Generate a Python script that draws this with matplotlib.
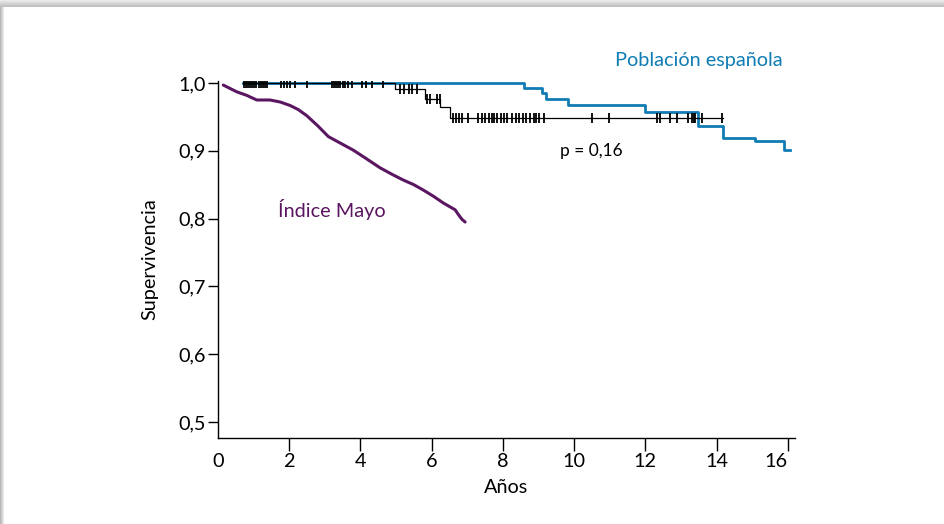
import numpy as np
import matplotlib
matplotlib.use("Agg")
import matplotlib.pyplot as plt
import matplotlib.transforms as mtransforms

plt.rcParams['font.family'] = ['Lato', 'DejaVu Sans']

# Población española (step curve)
pob_t = [0.70, 8.58, 9.09, 9.20, 9.84, 12.00, 13.49, 14.19, 15.08, 15.90, 16.05]
pob_s = [1.000, 0.992, 0.986, 0.977, 0.968, 0.957, 0.937, 0.919, 0.9145, 0.901, 0.901]

# Kaplan-Meier cohort (step curve)
km_t = [0.70, 4.97, 5.81, 6.24, 6.52, 14.19]
km_s = [1.000, 0.991, 0.977, 0.964, 0.949, 0.949]

# censored observations (years)
censor_t = [0.72, 0.78, 0.84, 0.90, 0.96, 1.02, 1.08, 1.14, 1.20, 1.26, 1.32, 1.38,
            1.76, 1.84, 1.93, 2.02, 2.16, 2.49,
            3.20, 3.26, 3.32, 3.38, 3.44, 3.50, 3.57, 3.65, 3.76,
            4.04, 4.15, 4.32, 4.64,
            5.12, 5.22, 5.36, 5.46, 5.58,
            5.87, 5.96,
            6.15, 6.23,
            6.60, 6.68, 6.76, 6.85, 7.03,
            7.30, 7.40, 7.50, 7.60, 7.69, 7.74, 7.84, 7.94, 8.04, 8.11,
            8.26, 8.36, 8.46, 8.56, 8.66, 8.76, 8.86, 8.94, 9.00, 9.16,
            10.50, 10.99, 12.34, 12.40, 12.68, 12.88, 13.21, 13.31, 13.36, 13.40,
            13.59, 14.15]

# Índice Mayo (predicted survival)
mayo_t = [0.15, 0.53, 0.80, 1.09, 1.46, 1.75, 2.02, 2.25, 2.49, 2.80, 3.10, 3.45, 3.80,
          4.15, 4.55, 4.90, 5.20, 5.50, 5.77, 6.05, 6.33, 6.66, 6.75, 6.85, 6.94]
mayo_s = [0.997, 0.987, 0.982, 0.975, 0.975, 0.972, 0.967, 0.961, 0.952, 0.937, 0.921, 0.911, 0.901,
          0.889, 0.875, 0.865, 0.857, 0.850, 0.842, 0.833, 0.823, 0.813, 0.806, 0.799, 0.795]

xticks = [0, 2, 4, 6, 8, 10, 12, 14, 16]
yticks = [0.5, 0.6, 0.7, 0.8, 0.9, 1.0]
ytick_labels = ['0,5', '0,6', '0,7', '0,8', '0,9', '1,0']

BLUE = '#0f7cb3'
PURPLE = '#5a1660'
FS = 14.3

fig = plt.figure(figsize=(9.44, 5.24), dpi=100)

# background with shadow on top and left edge
bg = fig.add_axes([0, 0, 1, 1], zorder=-10)
H, W = 524, 944
img = np.ones((H, W))
yy = np.arange(H)[:, None] * np.ones((1, W))
xx = np.ones((H, 1)) * np.arange(W)[None, :]
img = np.where(yy < 7, 0.72 + 0.2 * (1 - yy / 7.0), img)
img = np.where((xx < 4) & (yy >= 7), 0.72 + 0.25 * (xx / 4.0), img)
bg.imshow(img, cmap='gray', vmin=0, vmax=1, aspect='auto', interpolation='bilinear')
bg.set_axis_off()

ax = fig.add_axes([0.2309, 0.1641, 0.6112, 0.6813])
ax.set_facecolor('none')

ax.plot(pob_t, pob_s, drawstyle='steps-post', color=BLUE, lw=2.0, zorder=2)
ax.plot(km_t, km_s, drawstyle='steps-post', color='black', lw=0.9, zorder=3)
idx = np.searchsorted(km_t, censor_t, side='right') - 1
cs = np.array(km_s)[idx]
ax.plot(censor_t, cs, linestyle='none', marker='|', markersize=6.5, mew=1.3, color='black', zorder=4)
ax.plot(mayo_t, mayo_s, color=PURPLE, lw=2.2, zorder=3, solid_capstyle='round')

ax.set_xlim(0, 16.2)
ax.set_ylim(0.4764, 1.003)
ax.spines['top'].set_visible(False)
ax.spines['right'].set_visible(False)
ax.spines['left'].set_linewidth(1.0)
ax.spines['bottom'].set_linewidth(1.0)

ax.set_xticks(xticks)
ax.set_xticklabels([str(v) for v in xticks])
ax.set_yticks(yticks)
ax.set_yticklabels(ytick_labels)
ax.tick_params(axis='x', length=9, width=1.0, pad=2, labelsize=FS)
ax.tick_params(axis='y', length=7, width=1.0, pad=2, labelsize=FS)
ax.xaxis.get_major_ticks()[0].tick1line.set_visible(False)
# last label sits slightly left of its tick in the reference
lbl16 = ax.get_xticklabels()[-1]
lbl16.set_transform(lbl16.get_transform() + mtransforms.ScaledTranslation(-12 / 100, 0, fig.dpi_scale_trans))

ax.set_xlabel('Años', fontsize=FS, labelpad=6)
ax.set_ylabel('Supervivencia', fontsize=FS, labelpad=14)

ax.text(13.5, 1.033, 'Población española', color=BLUE, fontsize=FS, ha='center', va='center',
        clip_on=False)
ax.text(10.48, 0.9, 'p = 0,16', color='black', fontsize=12.5, ha='center', va='center')
ax.text(3.2, 0.813, 'Índice Mayo', color=PURPLE, fontsize=FS, ha='center', va='center')

fig.savefig('out.png', dpi=100)
